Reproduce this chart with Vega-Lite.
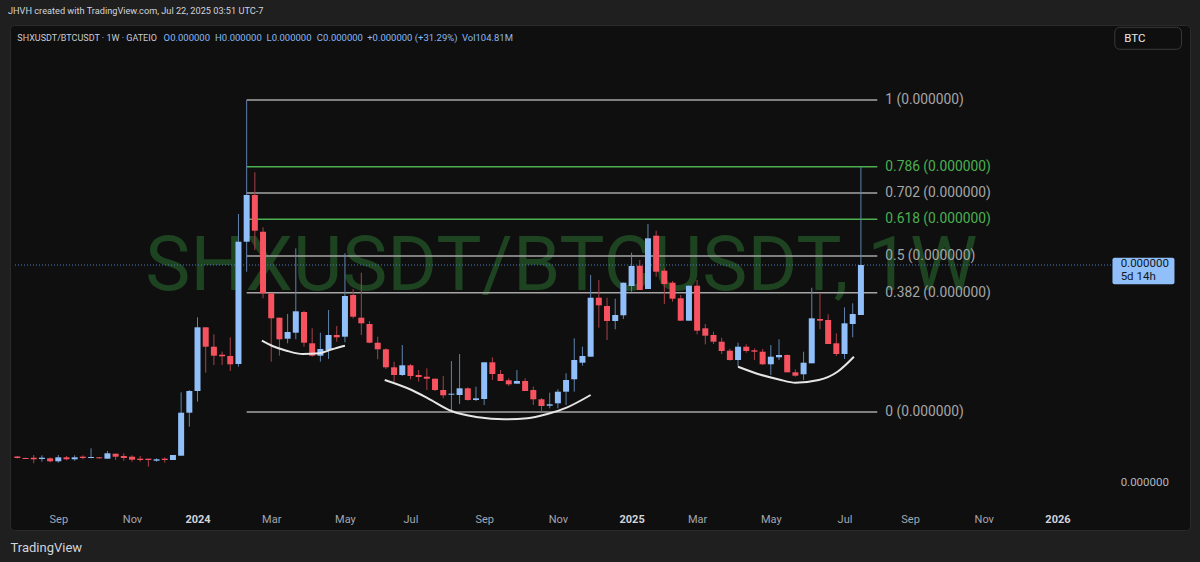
{
  "$schema": "https://vega.github.io/schema/vega-lite/v6.json",
  "width": 1180,
  "height": 505,
  "autosize": "none",
  "padding": {"left": 10, "right": 10, "top": 25, "bottom": 32},
  "background": "#1f1f1f",
  "title": {"text": "JHVH created with TradingView.com, Jul 22, 2025 03:51 UTC-7", "anchor": "start", "fontSize": 9.2, "font": "Roboto", "fontWeight": "normal", "color": "#d1d4dc", "offset": 9, "dx": -2},
  "config": {"view": {"fill": "#0f0f0f", "stroke": "#2a2a2a", "cornerRadius": 4}, "font": "Roboto"},
  "resolve": {"scale": {"color": "independent"}},
  "datasets": {
    "candles": [
      {"d":"2023-07-31","o":143.5,"h":144,"l":141.5,"c":142},
      {"d":"2023-08-07","o":142,"h":142.5,"l":141,"c":141},
      {"d":"2023-08-14","o":142.3,"h":145,"l":136.7,"c":140.7},
      {"d":"2023-08-21","o":141,"h":144.7,"l":138.3,"c":142.3},
      {"d":"2023-08-28","o":141.7,"h":142.7,"l":137.7,"c":138.7},
      {"d":"2023-09-04","o":138.7,"h":145,"l":137.3,"c":142.7},
      {"d":"2023-09-11","o":142.7,"h":144,"l":139.7,"c":140.7},
      {"d":"2023-09-18","o":140.7,"h":144.7,"l":139.3,"c":142.7},
      {"d":"2023-09-25","o":143.3,"h":144.7,"l":140.7,"c":142},
      {"d":"2023-10-02","o":142,"h":151.7,"l":141.7,"c":143},
      {"d":"2023-10-09","o":142.7,"h":143,"l":141.3,"c":141.7},
      {"d":"2023-10-16","o":141.3,"h":149,"l":141.3,"c":146.7},
      {"d":"2023-10-23","o":146.3,"h":146.3,"l":140,"c":143.3},
      {"d":"2023-10-30","o":144,"h":146.7,"l":139.3,"c":142},
      {"d":"2023-11-06","o":143.3,"h":144.7,"l":138.3,"c":140.3},
      {"d":"2023-11-13","o":141.3,"h":144,"l":138.3,"c":140},
      {"d":"2023-11-20","o":141.3,"h":141.3,"l":133.3,"c":140},
      {"d":"2023-11-27","o":139.3,"h":141.7,"l":138.3,"c":140.7},
      {"d":"2023-12-04","o":141.3,"h":142.7,"l":137.3,"c":140},
      {"d":"2023-12-11","o":140,"h":145,"l":140,"c":145},
      {"d":"2023-12-18","o":144.3,"h":207.7,"l":144,"c":187.3},
      {"d":"2023-12-25","o":187.3,"h":210,"l":173.3,"c":209},
      {"d":"2024-01-01","o":209,"h":282.7,"l":198.3,"c":272.7},
      {"d":"2024-01-08","o":272.7,"h":272.7,"l":227.3,"c":253.3},
      {"d":"2024-01-15","o":253.3,"h":265.7,"l":235,"c":244.3},
      {"d":"2024-01-22","o":245.3,"h":248.3,"l":235,"c":243.7},
      {"d":"2024-01-29","o":244,"h":262.7,"l":229,"c":235.7},
      {"d":"2024-02-05","o":236,"h":386,"l":233.3,"c":358.3},
      {"d":"2024-02-12","o":358.3,"h":500,"l":328.3,"c":405},
      {"d":"2024-02-19","o":405,"h":427.7,"l":350,"c":369.3},
      {"d":"2024-02-26","o":368.3,"h":372.7,"l":301.7,"c":306.7},
      {"d":"2024-03-04","o":306.7,"h":306.7,"l":238.3,"c":281.7},
      {"d":"2024-03-11","o":282.3,"h":282.3,"l":244.3,"c":260.7},
      {"d":"2024-03-18","o":261.3,"h":286,"l":256.7,"c":268},
      {"d":"2024-03-25","o":267.3,"h":351.7,"l":260.7,"c":288.7},
      {"d":"2024-04-01","o":288,"h":289.3,"l":253.3,"c":257.3},
      {"d":"2024-04-08","o":256.7,"h":271.7,"l":243.3,"c":244.3},
      {"d":"2024-04-15","o":244.3,"h":267.3,"l":238.3,"c":251},
      {"d":"2024-04-22","o":250,"h":290,"l":241,"c":265},
      {"d":"2024-04-29","o":265,"h":274,"l":258.3,"c":262.7},
      {"d":"2024-05-06","o":263.3,"h":346.7,"l":257.7,"c":304},
      {"d":"2024-05-13","o":305,"h":311,"l":281.7,"c":283.3},
      {"d":"2024-05-20","o":282.3,"h":327.3,"l":265,"c":276.7},
      {"d":"2024-05-27","o":276,"h":279,"l":256.7,"c":257.3},
      {"d":"2024-06-03","o":257.3,"h":263.3,"l":240.7,"c":250.7},
      {"d":"2024-06-10","o":250.7,"h":251.7,"l":231,"c":232.7},
      {"d":"2024-06-17","o":232.7,"h":238.3,"l":218.3,"c":225},
      {"d":"2024-06-24","o":225,"h":255,"l":224,"c":234.7},
      {"d":"2024-07-01","o":234.7,"h":236,"l":220.7,"c":224},
      {"d":"2024-07-08","o":225,"h":230,"l":218.3,"c":223},
      {"d":"2024-07-15","o":223.3,"h":231.7,"l":210,"c":221.3},
      {"d":"2024-07-22","o":221.3,"h":221.3,"l":209,"c":210},
      {"d":"2024-07-29","o":210,"h":224,"l":201.7,"c":204.7},
      {"d":"2024-08-05","o":205.3,"h":239,"l":188.3,"c":206.3},
      {"d":"2024-08-12","o":205,"h":246,"l":196,"c":211.7},
      {"d":"2024-08-19","o":211.7,"h":212.7,"l":199.3,"c":200},
      {"d":"2024-08-26","o":200,"h":213.3,"l":199,"c":201.7},
      {"d":"2024-09-02","o":201,"h":237.7,"l":195,"c":237.7},
      {"d":"2024-09-09","o":237.7,"h":242.7,"l":220,"c":226},
      {"d":"2024-09-16","o":226,"h":230,"l":219,"c":219},
      {"d":"2024-09-23","o":219.7,"h":221.7,"l":214,"c":215.7},
      {"d":"2024-09-30","o":216.3,"h":230,"l":216.3,"c":219},
      {"d":"2024-10-07","o":219,"h":221.7,"l":209,"c":209},
      {"d":"2024-10-14","o":210,"h":213.3,"l":195,"c":200.7},
      {"d":"2024-10-21","o":200.7,"h":202,"l":188.3,"c":194},
      {"d":"2024-10-28","o":194.3,"h":207.3,"l":191.7,"c":195.7},
      {"d":"2024-11-04","o":196.7,"h":210.7,"l":191.7,"c":208.3},
      {"d":"2024-11-11","o":208.3,"h":226.7,"l":195,"c":220},
      {"d":"2024-11-18","o":220.7,"h":261.7,"l":208.3,"c":240},
      {"d":"2024-11-25","o":237.3,"h":253.3,"l":234.3,"c":244},
      {"d":"2024-12-02","o":243.3,"h":325,"l":243.3,"c":302.3},
      {"d":"2024-12-09","o":302.3,"h":320,"l":272.3,"c":294.7},
      {"d":"2024-12-16","o":294,"h":302.3,"l":260,"c":279},
      {"d":"2024-12-23","o":279,"h":301.3,"l":270.7,"c":285},
      {"d":"2024-12-30","o":284.7,"h":317.3,"l":281,"c":317.3},
      {"d":"2025-01-06","o":314,"h":347.3,"l":308.3,"c":334},
      {"d":"2025-01-13","o":334.3,"h":340,"l":310,"c":310},
      {"d":"2025-01-20","o":311,"h":376,"l":311,"c":361.7},
      {"d":"2025-01-27","o":364.3,"h":369.3,"l":323.3,"c":328.3},
      {"d":"2025-02-03","o":329.3,"h":331.7,"l":296,"c":316},
      {"d":"2025-02-10","o":317.3,"h":319,"l":298.3,"c":301.3},
      {"d":"2025-02-17","o":301.7,"h":305,"l":279.3,"c":279.3},
      {"d":"2025-02-24","o":279.3,"h":314.3,"l":279.3,"c":314.3},
      {"d":"2025-03-03","o":314.3,"h":320,"l":265.7,"c":269.3},
      {"d":"2025-03-10","o":271.7,"h":276,"l":255.7,"c":264.3},
      {"d":"2025-03-17","o":265,"h":268.3,"l":256,"c":258.3},
      {"d":"2025-03-24","o":258.3,"h":262.3,"l":246,"c":249},
      {"d":"2025-03-31","o":249.3,"h":251.3,"l":239.3,"c":240},
      {"d":"2025-04-07","o":240,"h":257.3,"l":233.3,"c":253.3},
      {"d":"2025-04-14","o":253.3,"h":255.7,"l":247.3,"c":249},
      {"d":"2025-04-21","o":249.7,"h":251.7,"l":240,"c":248.3},
      {"d":"2025-04-28","o":248.3,"h":251,"l":235,"c":235.7},
      {"d":"2025-05-05","o":235.7,"h":255,"l":225,"c":243.3},
      {"d":"2025-05-12","o":242.7,"h":260.7,"l":240,"c":245},
      {"d":"2025-05-19","o":245,"h":245.7,"l":227.7,"c":227.7},
      {"d":"2025-05-26","o":227.7,"h":230.7,"l":223.3,"c":224.3},
      {"d":"2025-06-02","o":225.7,"h":248.3,"l":220,"c":237.3},
      {"d":"2025-06-09","o":236.7,"h":312.3,"l":236.7,"c":281.7},
      {"d":"2025-06-16","o":281,"h":306.7,"l":270.7,"c":279.3},
      {"d":"2025-06-23","o":280,"h":285.7,"l":256,"c":256},
      {"d":"2025-06-30","o":256.7,"h":266.7,"l":244,"c":246},
      {"d":"2025-07-07","o":246,"h":292.7,"l":241,"c":276.7},
      {"d":"2025-07-14","o":276,"h":296.7,"l":262.7,"c":286},
      {"d":"2025-07-21","o":285,"h":433,"l":285,"c":335}
    ],
    "fib": [
      {"d":"2024-02-12","d2":"2025-08-04","p":500,"lvl":"1","lab":"1 (0.000000)"},
      {"d":"2024-02-12","d2":"2025-08-04","p":433.2,"lvl":"0.786","lab":"0.786 (0.000000)"},
      {"d":"2024-02-12","d2":"2025-08-04","p":407.0,"lvl":"0.702","lab":"0.702 (0.000000)"},
      {"d":"2024-02-12","d2":"2025-08-04","p":380.8,"lvl":"0.618","lab":"0.618 (0.000000)"},
      {"d":"2024-02-12","d2":"2025-08-04","p":344,"lvl":"0.5","lab":"0.5 (0.000000)"},
      {"d":"2024-02-12","d2":"2025-08-04","p":307.2,"lvl":"0.382","lab":"0.382 (0.000000)"},
      {"d":"2024-02-12","d2":"2025-08-04","p":188,"lvl":"0","lab":"0 (0.000000)"}
    ],
    "arcs": [
      {"a":1,"d":"2024-02-25","p":259.3},
      {"a":1,"d":"2024-03-05","p":254},
      {"a":1,"d":"2024-03-17","p":249.3},
      {"a":1,"d":"2024-03-31","p":246},
      {"a":1,"d":"2024-04-14","p":246.7},
      {"a":1,"d":"2024-04-25","p":250.7},
      {"a":1,"d":"2024-05-06","p":254.3},
      {"a":2,"d":"2024-06-09","p":220},
      {"a":2,"d":"2024-07-02","p":210},
      {"a":2,"d":"2024-07-16","p":201.7},
      {"a":2,"d":"2024-08-05","p":189},
      {"a":2,"d":"2024-08-28","p":182.7},
      {"a":2,"d":"2024-09-19","p":180.7},
      {"a":2,"d":"2024-10-09","p":181.7},
      {"a":2,"d":"2024-10-26","p":186},
      {"a":2,"d":"2024-11-12","p":192.7},
      {"a":2,"d":"2024-12-02","p":205},
      {"a":3,"d":"2025-04-07","p":233.3},
      {"a":3,"d":"2025-04-27","p":225},
      {"a":3,"d":"2025-05-12","p":220.5},
      {"a":3,"d":"2025-05-26","p":217.3},
      {"a":3,"d":"2025-06-15","p":220},
      {"a":3,"d":"2025-07-01","p":228.3},
      {"a":3,"d":"2025-07-15","p":243.3}
    ]
  },
  "encoding": {
    "x": {
      "field": "d", "type": "temporal",
      "scale": {"domain": [{"year":2023,"month":7,"date":29,"utc":true},{"year":2026,"month":4,"date":24,"utc":true}], "nice": false},
      "axis": {
        "values": [
          {"year":2023,"month":9,"date":4,"utc":true},
          {"year":2023,"month":11,"date":6,"utc":true},
          {"year":2024,"month":1,"date":1,"utc":true},
          {"year":2024,"month":3,"date":4,"utc":true},
          {"year":2024,"month":5,"date":6,"utc":true},
          {"year":2024,"month":7,"date":1,"utc":true},
          {"year":2024,"month":9,"date":2,"utc":true},
          {"year":2024,"month":11,"date":4,"utc":true},
          {"year":2025,"month":1,"date":6,"utc":true},
          {"year":2025,"month":3,"date":3,"utc":true},
          {"year":2025,"month":5,"date":5,"utc":true},
          {"year":2025,"month":7,"date":7,"utc":true},
          {"year":2025,"month":9,"date":1,"utc":true},
          {"year":2025,"month":11,"date":3,"utc":true},
          {"year":2026,"month":1,"date":5,"utc":true}
        ],
        "labelExpr": "utcFormat(datum.value, '%m') == '01' ? utcFormat(datum.value, '%Y') : utcFormat(datum.value, '%b')",
        "labelColor": {"condition": {"test": "utcFormat(datum.value, '%m') == '01'", "value": "#d1d4dc"}, "value": "#a3a6af"},
        "labelFontWeight": {"condition": {"test": "utcFormat(datum.value, '%m') == '01'", "value": "bold"}, "value": "normal"},
        "labelFontSize": 11,
        "labelFont": "Roboto",
        "domain": false, "ticks": false, "grid": false,
        "offset": -22, "labelPadding": 5,
        "labelOverlap": false, "labelFlush": false,
        "title": "TradingView", "titleColor": "#d1d4dc", "titleFontSize": 13, "titleFontWeight": "normal",
        "titleAnchor": "start", "titlePadding": 17, "titleFont": "Roboto"
      }
    }
  },
  "layer": [
    {
      "data": {"values": [{"d":"2024-11-07","p":310,"t":"SHXUSDT/BTCUSDT, 1W"}]},
      "mark": {"type": "text", "fontSize": 76, "font": "Roboto", "align": "center", "baseline": "alphabetic", "color": "#1d4321"},
      "encoding": {"y": {"field":"p","type":"quantitative","scale":{"domain":[70,575],"nice":false,"zero":false},"axis":null}, "text": {"field":"t"}}
    },
    {
      "data": {"name": "fib"},
      "mark": {"type": "rule", "strokeWidth": 1.5},
      "encoding": {
        "x2": {"field": "d2"},
        "y": {"field":"p","type":"quantitative","scale":{"domain":[70,575],"nice":false,"zero":false},"axis":null},
        "color": {"field":"lvl","type":"nominal","scale":{"domain":["1","0.786","0.702","0.618","0.5","0.382","0"],"range":["#a6a6a6","#4caf50","#a6a6a6","#4caf50","#a6a6a6","#a6a6a6","#a6a6a6"]},"legend":null}
      }
    },
    {
      "data": {"name": "fib"},
      "mark": {"type": "text", "fontSize": 13.8, "font": "Roboto", "align": "left", "baseline": "middle", "dx": 8},
      "encoding": {
        "x": {"field": "d2", "type": "temporal"},
        "y": {"field":"p","type":"quantitative","scale":{"domain":[70,575],"nice":false,"zero":false},"axis":null},
        "text": {"field": "lab"},
        "color": {"field":"lvl","type":"nominal","scale":{"domain":["1","0.786","0.702","0.618","0.5","0.382","0"],"range":["#a6a6a6","#4caf50","#a6a6a6","#4caf50","#a6a6a6","#a6a6a6","#a6a6a6"]},"legend":null}
      }
    },
    {
      "data": {"values": [{"d":"2023-07-29","d2":"2026-02-21","p":335}]},
      "mark": {"type": "rule", "strokeDash": [1, 2], "strokeWidth": 1, "color": "#4f7fbf"},
      "encoding": {"x2": {"field":"d2"}, "y": {"field":"p","type":"quantitative","scale":{"domain":[70,575],"nice":false,"zero":false},"axis":null}}
    },
    {
      "data": {"name": "candles"},
      "mark": {"type": "rule", "strokeWidth": 1},
      "encoding": {
        "y": {"field":"l","type":"quantitative","scale":{"domain":[70,575],"nice":false,"zero":false},"axis":null},
        "y2": {"field":"h"},
        "color": {"condition": {"test": "datum.c >= datum.o", "value": "#5f82ad"}, "value": "#a8404a"}
      }
    },
    {
      "data": {"name": "candles"},
      "mark": {"type": "bar", "width": 6},
      "encoding": {
        "y": {"field":"o","type":"quantitative","scale":{"domain":[70,575],"nice":false,"zero":false},"axis":null},
        "y2": {"field":"c"},
        "color": {"condition": {"test": "datum.c >= datum.o", "value": "#90bff9"}, "value": "#f7525f"}
      }
    },
    {
      "data": {"name": "arcs"},
      "mark": {"type": "line", "strokeWidth": 2, "color": "#e6e6e6", "interpolate": "monotone"},
      "encoding": {
        "y": {"field":"p","type":"quantitative","scale":{"domain":[70,575],"nice":false,"zero":false},"axis":null},
        "detail": {"field": "a", "type": "nominal"}
      }
    },
    {
      "data": {"values": [
        {"d":"2023-07-31","p":562,"t":"SHXUSDT/BTCUSDT · 1W · GATEIO"}
      ]},
      "mark": {"type": "text", "fontSize": 9, "font": "Roboto", "align": "left", "baseline": "middle", "color": "#c9ccd4"},
      "encoding": {
        "y": {"field":"p","type":"quantitative","scale":{"domain":[70,575],"nice":false,"zero":false},"axis":null},
        "text": {"field": "t"}
      }
    },
    {
      "data": {"values": [
        {"d":"2023-12-03","p":562,"t":"O0.000000"},
        {"d":"2024-01-16","p":562,"t":"H0.000000"},
        {"d":"2024-02-29","p":562,"t":"L0.000000"},
        {"d":"2024-04-12","p":562,"t":"C0.000000"},
        {"d":"2024-05-25","p":562,"t":"+0.000000 (+31.29%)"},
        {"d":"2024-08-14","p":562,"t":"Vol104.81M"}
      ]},
      "mark": {"type": "text", "fontSize": 9.5, "font": "Roboto", "align": "left", "baseline": "middle", "color": "#89b8f5"},
      "encoding": {
        "y": {"field":"p","type":"quantitative","scale":{"domain":[70,575],"nice":false,"zero":false},"axis":null},
        "text": {"field": "t"}
      }
    },
    {
      "data": {"values": [{"d":"2026-02-21","d2":"2026-04-15","p":315.7,"p2":342.3}]},
      "mark": {"type": "rect", "color": "#90bff9", "cornerRadius": 2},
      "encoding": {
        "x2": {"field":"d2"},
        "y": {"field":"p","type":"quantitative","scale":{"domain":[70,575],"nice":false,"zero":false},"axis":null},
        "y2": {"field":"p2"}
      }
    },
    {
      "data": {"values": [{"d":"2026-02-23","d2":"2026-04-21","p":550.7,"p2":572.7}]},
      "mark": {"type": "rect", "fillOpacity": 0, "stroke": "#3a3a3a", "strokeWidth": 1, "cornerRadius": 5},
      "encoding": {
        "x2": {"field":"d2"},
        "y": {"field":"p","type":"quantitative","scale":{"domain":[70,575],"nice":false,"zero":false},"axis":null},
        "y2": {"field":"p2"}
      }
    },
    {
      "data": {"values": [
        {"d":"2026-02-28","p":335.7,"t":"0.000000","k":"box"},
        {"d":"2026-02-28","p":323.3,"t":"5d 14h","k":"box"},
        {"d":"2026-03-03","p":561.5,"t":"BTC","k":"btn"},
        {"d":"2026-02-28","p":117,"t":"0.000000","k":"axis"}
      ]},
      "mark": {"type": "text", "fontSize": 11.5, "font": "Roboto", "align": "left", "baseline": "middle"},
      "encoding": {
        "y": {"field":"p","type":"quantitative","scale":{"domain":[70,575],"nice":false,"zero":false},"axis":null},
        "text": {"field": "t"},
        "color": {"field":"k","type":"nominal","scale":{"domain":["box","btn","axis"],"range":["#131722","#e8e8e8","#b2b5be"]},"legend":null}
      }
    }
  ]
}
